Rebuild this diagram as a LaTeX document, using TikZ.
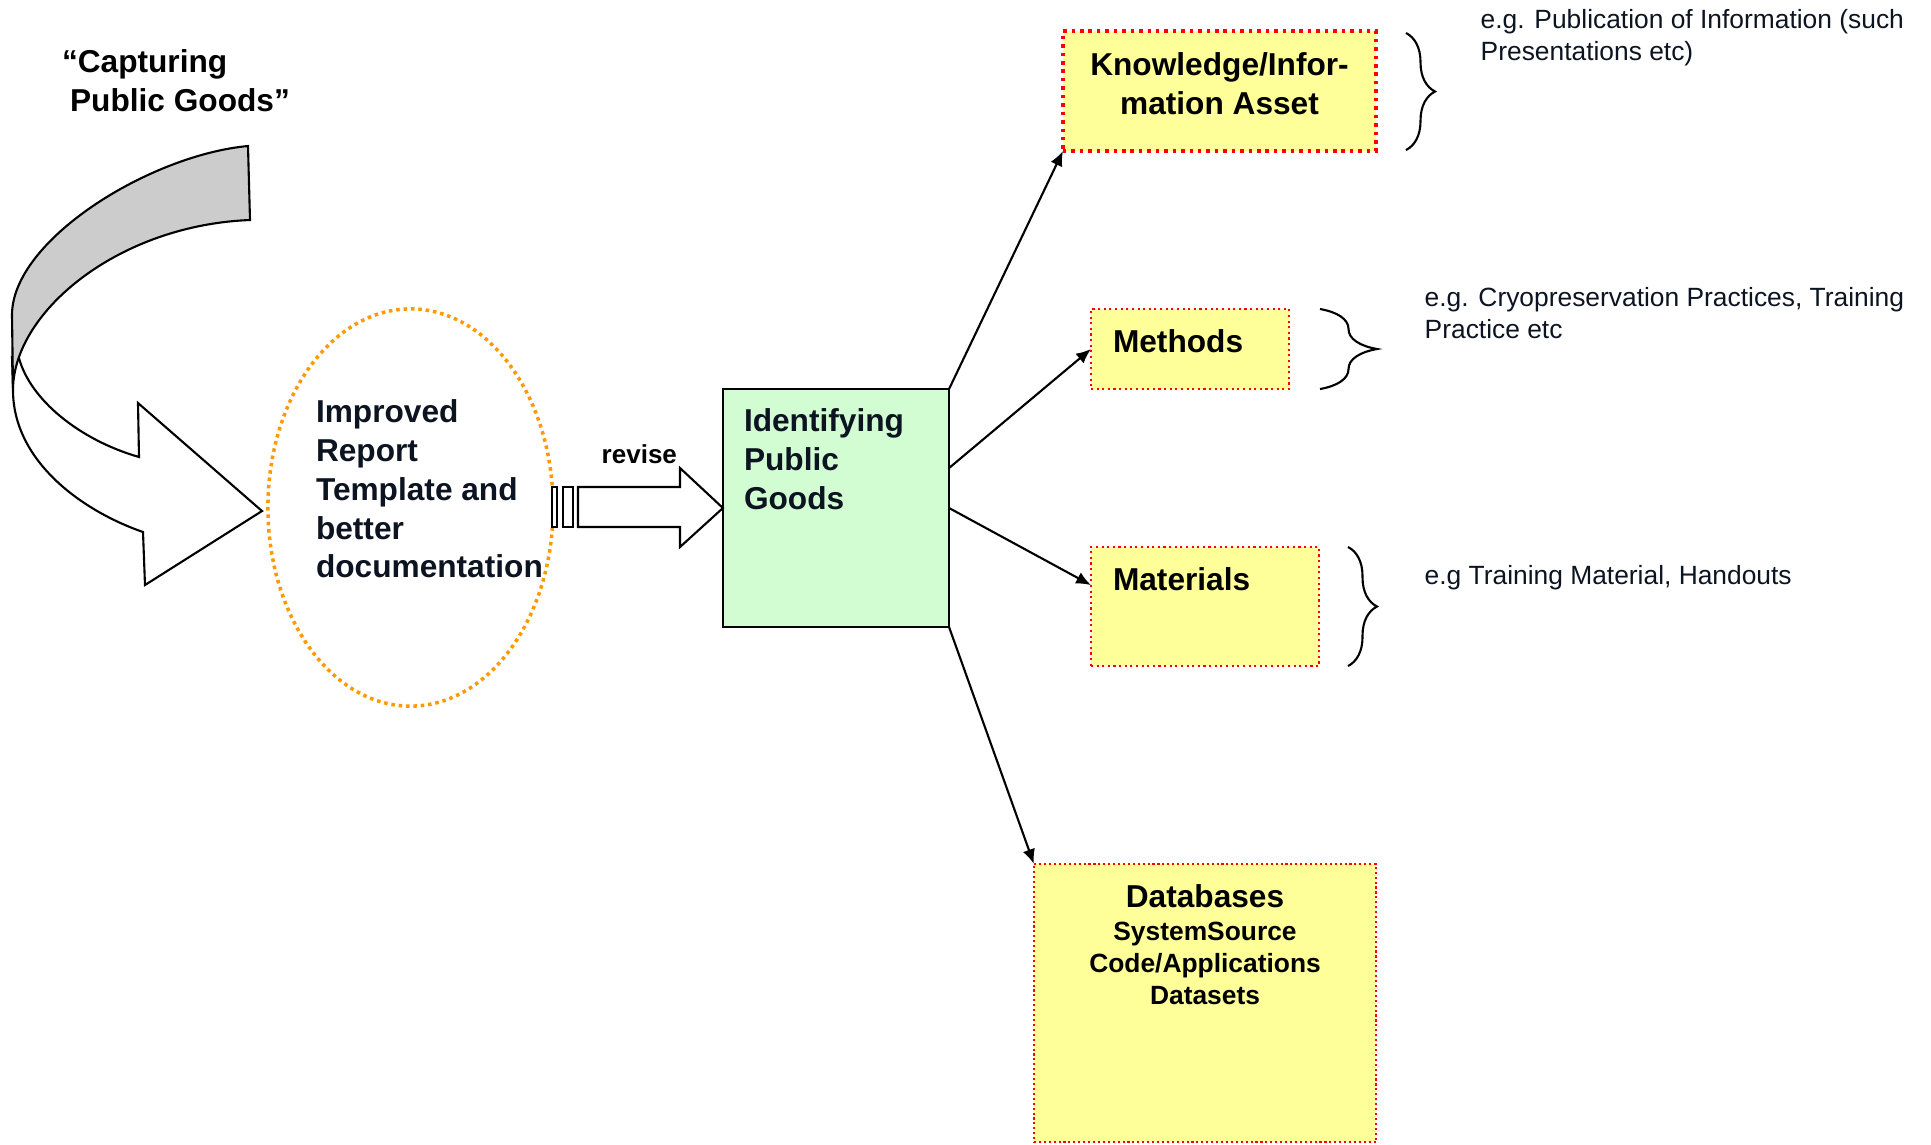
\documentclass[tikz,border=0pt]{standalone}
\usepackage{fontspec}
\setmainfont{Liberation Sans}
\usetikzlibrary{arrows.meta,shapes.geometric,calc,decorations.pathreplacing}
\definecolor{txt}{RGB}{13,20,33}
\definecolor{orangeC}{RGB}{255,153,0}
\definecolor{yellowC}{RGB}{255,255,153}
\definecolor{greenC}{RGB}{210,252,210}
\definecolor{grayC}{RGB}{204,204,204}
\definecolor{redC}{RGB}{255,0,0}
\begin{document}
\begin{tikzpicture}[x=0.01cm,y=-0.01cm,
  bold9/.style={font=\fontsize{9}{11}\selectfont\bfseries, inner sep=0pt, outer sep=0pt},
  reg75/.style={font=\fontsize{7.5}{9.1}\selectfont, inner sep=0pt, text=txt, align=left},
  ybox/.style={rectangle, fill=yellowC, draw=redC, inner sep=0pt, outer sep=0pt},
  finebox/.style={ybox, line width=0.6pt, dash pattern=on 0.6pt off 1pt},
  coarsebox/.style={ybox, line width=1pt, dash pattern=on 1pt off 1.4pt},
  conn/.style={line width=0.6pt, -{Latex[length=4.2pt,width=3.6pt]}},
  brc/.style={line width=0.6pt, decorate, decoration={brace, amplitude=#1}},
  outline/.style={line width=0.6pt, line join=miter}
]
\useasboundingbox (0,0) rectangle (1931,1144);

% curved arrow: front (white) face then back (gray) face
\draw[outline, fill=white] (13,390) .. controls (13,460) and (80,510) .. (143,532)
  -- (145,585) -- (262,511) -- (138,403) -- (139,457)
  .. controls (80,440) and (30,400) .. (18.8,357.4) -- (12,357) -- cycle;
\draw[outline, fill=grayC] (248,146) .. controls (150,155) and (12,240) .. (12,315)
  -- (13,388) .. controls (15,310) and (120,225) .. (250,220) -- cycle;

\node[bold9, anchor=north west, align=left] (capt) at (62,50)
  {“Capturing\\\hspace*{2.3pt}Public Goods”};

% ellipse
\node[ellipse, draw=orangeC, line width=1pt, dash pattern=on 1pt off 1.1pt,
  minimum width=2.85cm, minimum height=3.97cm, inner sep=0pt] (ell) at (410.5,507.5) {};
\node[bold9, text=txt, anchor=north west, align=left] (elltxt) at (316,400)
  {Improved\\Report\\Template and\\better\\documentation};

% identifying box
\node[rectangle, draw, line width=0.6pt, fill=greenC, minimum width=2.26cm,
  minimum height=2.38cm, inner sep=0pt, outer sep=0pt] (ident) at (836,508) {};
\node[bold9, text=txt, anchor=north west, align=left] (identtxt) at (744,409)
  {Identifying\\Public\\Goods};

% revise block arrow
\draw[outline, fill=white] (552,487) rectangle (557,527);
\draw[outline, fill=white] (563,487) rectangle (573,527);
\draw[outline, fill=white] (578,487) -- (680,487) -- (680,468) -- (ident.west)
  -- (680,547) -- (680,527) -- (578,527) -- cycle;
\node[font=\fontsize{7.4}{9}\selectfont\bfseries, inner sep=0pt, anchor=west] (rev) at (601,454) {revise};

% target boxes
\node[coarsebox, minimum width=3.13cm, minimum height=1.20cm] (know) at (1219.5,91) {};
\node[bold9, anchor=north, align=center] (knowtxt) at (1219.5,53) {Knowledge/Infor-\\mation Asset};

\node[finebox, minimum width=1.98cm, minimum height=0.80cm] (meth) at (1190,349) {};
\node[bold9, anchor=west] (methtxt) at (1113,341) {Methods};

\node[finebox, minimum width=2.28cm, minimum height=1.19cm] (mat) at (1205,606.5) {};
\node[bold9, anchor=west] (mattxt) at (1113,579) {Materials};

\node[finebox, dash pattern=on 0.6pt off 0.8pt, minimum width=3.42cm, minimum height=2.78cm] (db) at (1205,1003) {};
\node[bold9, anchor=north] (dbtxt) at (1205,885) {Databases};
\node[font=\fontsize{7.5}{9.1}\selectfont\bfseries, inner sep=0pt, anchor=north, align=center] (dbsub) at (1205,921.5)
  {SystemSource\\Code/Applications\\Datasets};

% connectors
\draw[conn] (ident.north east) -- (know.south west);
\draw[conn] ($(ident.north east)!0.332!(ident.south east)$) -- (meth.west);
\draw[conn] (ident.east) -- ($(mat.north west)!0.32!(mat.south west)$);
\draw[conn] (ident.south east) -- (db.north west);

% braces
\draw[brc=0.29cm] (1406,33) -- (1406,150);
\draw[brc=0.57cm] (1320,309) -- (1320,389);
\draw[brc=0.29cm] (1348,547) -- (1348,666);

% example texts
\node[reg75, anchor=north west] (ex1) at (1480,9) {e.g. Publication of Information (such\\Presentations etc)};
\node[reg75, anchor=north west] (ex2) at (1424,287) {e.g. Cryopreservation Practices, Training\\Practice etc};
\node[reg75, anchor=north west] (ex3) at (1424,565) {e.g Training Material, Handouts};
\end{tikzpicture}
\end{document}
